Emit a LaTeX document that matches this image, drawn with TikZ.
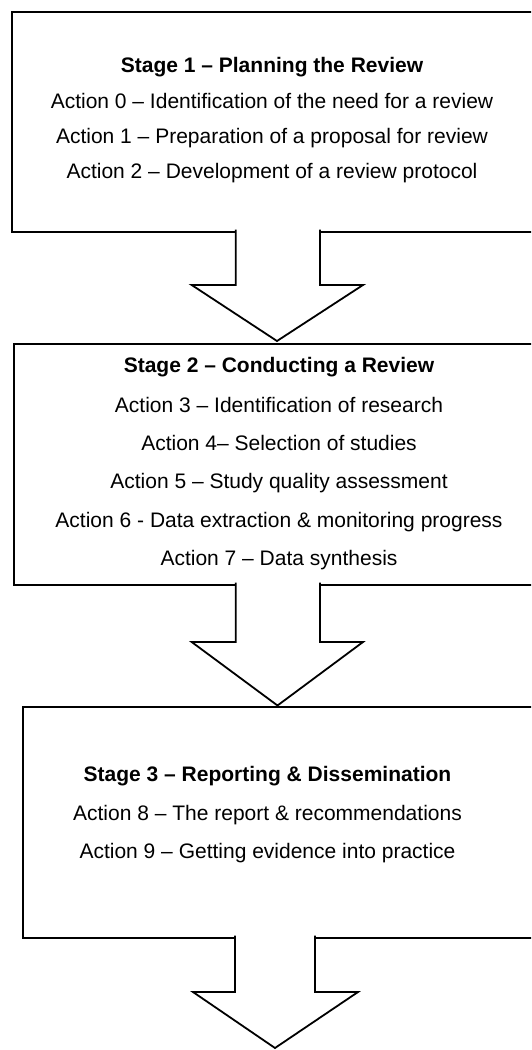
\documentclass[tikz,border=0pt]{standalone}
\usepackage{fontspec}
\setmainfont{Liberation Sans}
\begin{document}
\begin{tikzpicture}[x=1pt,y=-1pt,
  stagebox/.style={draw, line width=1.8pt, fill=white, inner sep=0pt, anchor=north west},
  txt/.style={font=\fontsize{21}{25}\selectfont, inner sep=0pt, anchor=base},
  ttl/.style={txt, font=\fontsize{21}{25}\selectfont\bfseries},
  blockarrow/.style={draw, line width=1.8pt, fill=white, line join=miter}]
\useasboundingbox (0,0) rectangle (531,1050);
\clip (0,0) rectangle (531,1050);
% boxes
\node[stagebox, minimum width=540pt, minimum height=220pt] (s1) at (11,11) {};
\node[stagebox, minimum width=540pt, minimum height=241pt] (s2) at (12.7,343) {};
\node[stagebox, minimum width=540pt, minimum height=231pt] (s3) at (22.3,706) {};
% texts stage 1
\node[ttl] (t1) at (272,72) {Stage 1 – Planning the Review};
\node[txt] (a0) at (272,108) {Action 0 – Identification of the need for a review};
\node[txt] (a1) at (272,143) {Action 1 – Preparation of a proposal for review};
\node[txt] (a2) at (272,178) {Action 2 – Development of a review protocol};
% texts stage 2
\node[ttl] (t2) at (279,372) {Stage 2 – Conducting a Review};
\node[txt] (a3) at (279,412) {Action 3 – Identification of research};
\node[txt] (a4) at (279,450) {Action 4– Selection of studies};
\node[txt] (a5) at (279,488) {Action 5 – Study quality assessment};
\node[txt] (a6) at (279,527) {Action 6 - Data extraction \& monitoring progress};
\node[txt] (a7) at (279,565) {Action 7 – Data synthesis};
% texts stage 3
\node[ttl] (t3) at (267.5,781) {Stage 3 – Reporting \& Dissemination};
\node[txt] (a8) at (267.5,820) {Action 8 – The report \& recommendations};
\node[txt] (a9) at (267.5,858) {Action 9 – Getting evidence into practice};
% block arrows
\coordinate (tip1) at (277,341);
\coordinate (tip2) at (277.5,705.5);
\coordinate (tip3) at (275,1048);
\draw[blockarrow] (235.7,229.5) -- (235.7,285) -- (191.7,285) -- (tip1) -- (363,285) -- (320,285) -- (320,229.5);
\draw[blockarrow] (235.7,582.5) -- (235.7,642) -- (191.7,642) -- (tip2) -- (363,642) -- (320,642) -- (320,582.5);
\draw[blockarrow] (235,935.5) -- (235,992) -- (193,992) -- (tip3) -- (358,992) -- (315,992) -- (315,935.5);
\end{tikzpicture}
\end{document}
